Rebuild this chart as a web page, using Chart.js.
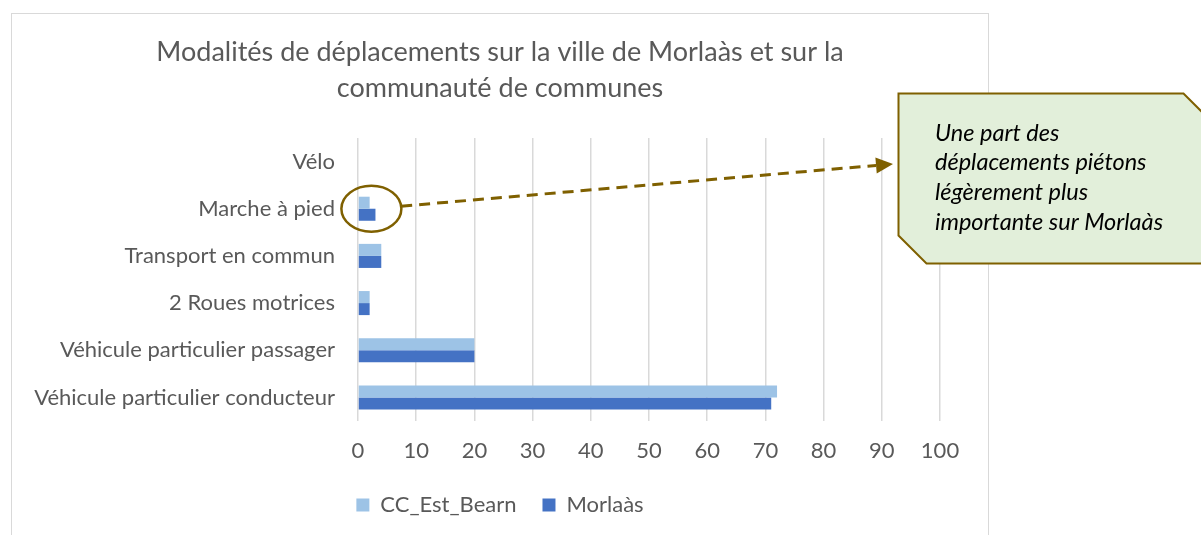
<!DOCTYPE html>
<html>
<head>
<meta charset="utf-8">
<script src="https://cdn.jsdelivr.net/npm/chart.js@4.4.1/dist/chart.umd.min.js"></script>
<style>
  html, body { margin: 0; padding: 0; background: #fff; }
  #wrap { width: 1201px; height: 535px; position: relative; }
</style>
</head>
<body>
<div id="wrap"><canvas id="myChart"></canvas></div>
<script>
const categories = [
    'Vélo',
    'Marche à pied',
    'Transport en commun',
    '2 Roues motrices',
    'Véhicule particulier passager',
    'Véhicule particulier conducteur'
];
const ccEstBearn = [0, 2, 4, 2, 20, 72];
const morlaas = [0, 3, 4, 2, 20, 71];
const xTicks = [0, 10, 20, 30, 40, 50, 60, 70, 80, 90, 100];
const titleLines = ['Modalités de déplacements sur la ville de Morlaàs et sur la', 'communauté de communes'];
const calloutLines = ['Une part des', 'déplacements piétons', 'légèrement plus', 'importante sur Morlaàs'];

const gold = '#7F6000';
const grey = '#595959';

// frame, circled bars, dashed arrow and the comment box
const extras = {
    id: 'extras',
    beforeDraw(chart) {
        const c = chart.ctx;
        c.save();
        c.strokeStyle = '#D9D9D9';
        c.lineWidth = 1;
        c.strokeRect(11.5, 13.5, 977, 540);
        c.restore();
    },
    afterDraw(chart) {
        const c = chart.ctx;
        const x = chart.scales.x, y = chart.scales.y;
        const cx = x.getPixelForValue(2.3);
        const cy = y.getPixelForValue(1);
        const rx = 30, ry = 23;

        c.save();
        c.strokeStyle = gold;
        c.lineWidth = 2.5;
        c.beginPath();
        c.ellipse(cx, cy, rx, ry, 0, 0, Math.PI * 2);
        c.stroke();

        // arrow
        const tipX = 893, tipY = 164;
        const ang = Math.atan2((tipY - cy) / ry, (tipX - cx) / rx);
        const sx = cx + rx * Math.cos(ang), sy = cy + ry * Math.sin(ang);
        const dir = Math.atan2(tipY - sy, tipX - sx);
        const headLen = 17;
        const ex = tipX - headLen * Math.cos(dir), ey = tipY - headLen * Math.sin(dir);
        c.lineWidth = 3;
        c.setLineDash([11, 7]);
        c.beginPath();
        c.moveTo(sx, sy);
        c.lineTo(ex, ey);
        c.stroke();
        c.setLineDash([]);
        c.fillStyle = gold;
        c.beginPath();
        c.moveTo(tipX, tipY);
        c.lineTo(ex - 8 * Math.sin(dir), ey + 8 * Math.cos(dir));
        c.lineTo(ex + 8 * Math.sin(dir), ey - 8 * Math.cos(dir));
        c.closePath();
        c.fill();

        // comment box with snipped corners
        const bx = 898.5, by = 93.5, bw = 313, bh = 170, snip = 28;
        c.beginPath();
        c.moveTo(bx, by);
        c.lineTo(bx + bw - snip, by);
        c.lineTo(bx + bw, by + snip);
        c.lineTo(bx + bw, by + bh);
        c.lineTo(bx + snip, by + bh);
        c.lineTo(bx, by + bh - snip);
        c.closePath();
        c.fillStyle = '#E2EFDA';
        c.fill();
        c.lineWidth = 2;
        c.strokeStyle = gold;
        c.stroke();

        c.fillStyle = '#000';
        c.font = 'italic 23.5px Lato';
        c.textBaseline = 'middle';
        calloutLines.forEach((t, i) => c.fillText(t, 935, 133 + i * 29.7));
        c.restore();
    }
};

const ctx = document.getElementById('myChart').getContext('2d');
const myChart = new Chart(ctx, {
    type: 'bar',
    data: {
        labels: categories,
        datasets: [{
            label: 'CC_Est_Bearn',
            data: ccEstBearn,
            backgroundColor: '#9DC3E6'
        }, {
            label: 'Morlaàs',
            data: morlaas,
            backgroundColor: '#4472C4'
        }]
    },
    options: {
        indexAxis: 'y',
        responsive: true,
        maintainAspectRatio: false,
        animation: false,
        categoryPercentage: 0.51,
        barPercentage: 1,
        layout: { padding: { left: 0, right: 201, top: 0, bottom: 9 } },
        scales: {
            x: {
                min: 0,
                max: 100,
                afterBuildTicks(scale) { scale.ticks = xTicks.map(v => ({ value: v })); },
                afterFit(scale) { scale.height = 47; },
                grid: { color: '#D9D9D9', lineWidth: 1.5, drawTicks: false },
                border: { display: false },
                ticks: { color: grey, font: { family: 'Lato', size: 22 }, padding: 17 }
            },
            y: {
                afterFit(scale) { scale.width = 358; },
                grid: { display: false, drawTicks: false },
                border: { display: false },
                ticks: { color: grey, font: { family: 'Lato', size: 22 }, padding: 23 }
            },
            yr: {
                axis: 'y',
                position: 'right',
                afterFit(scale) { scale.width = 60; },
                grid: { display: false, drawTicks: false },
                border: { display: false },
                ticks: { display: false }
            }
        },
        plugins: {
            title: {
                display: true,
                text: titleLines,
                color: grey,
                font: { family: 'Lato', size: 27, weight: 'normal', lineHeight: 1.333 },
                padding: { top: 34, bottom: 32 }
            },
            legend: {
                position: 'bottom',
                labels: {
                    color: grey,
                    font: { family: 'Lato', size: 22 },
                    boxWidth: 13,
                    boxHeight: 13,
                    padding: 26
                }
            },
            tooltip: { enabled: false }
        }
    },
    plugins: [extras]
});
</script>
</body>
</html>
